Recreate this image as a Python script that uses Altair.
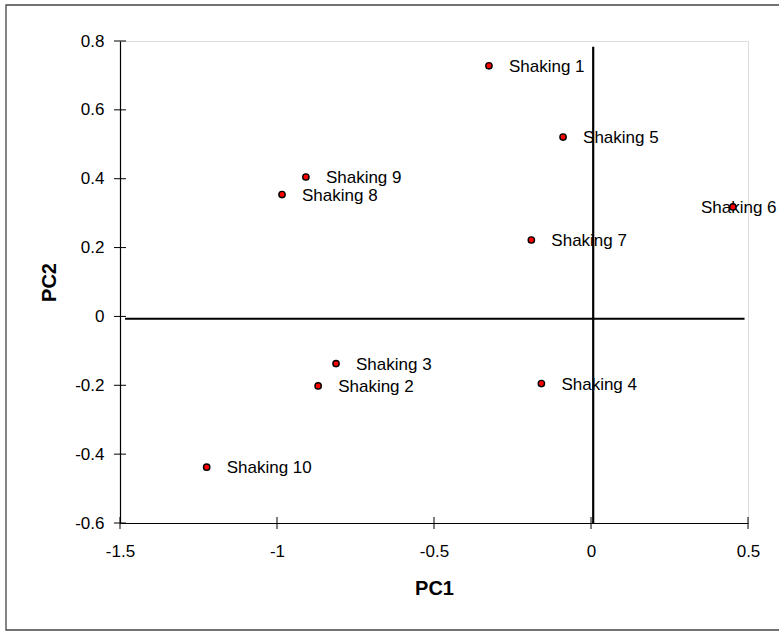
import altair as alt
import pandas as pd

# PCA scores of the shaking runs
labels = ["Shaking 1", "Shaking 2", "Shaking 3", "Shaking 4", "Shaking 5",
          "Shaking 6", "Shaking 7", "Shaking 8", "Shaking 9", "Shaking 10"]
pc1 = [-0.325, -0.869, -0.812, -0.158, -0.089, 0.452, -0.190, -0.984, -0.908, -1.224]
pc2 = [0.728, -0.202, -0.137, -0.195, 0.521, 0.318, 0.222, 0.354, 0.405, -0.438]

# axis tick values
x_ticks = [-1.5, -1.0, -0.5, 0.0, 0.5]
y_ticks = [-0.6, -0.4, -0.2, 0.0, 0.2, 0.4, 0.6, 0.8]

# reference axes drawn through the origin
h_axis = {"x": [-1.484], "x2": [0.489], "y": [-0.007]}
v_axis = {"x": [0.007], "y": [-0.6], "y2": [0.783]}

FONT = "Liberation Sans"
W, H = 628, 482

df = pd.DataFrame({"label": labels, "PC1": pc1, "PC2": pc2})
xs = alt.Scale(domain=[-1.5, 0.5], nice=False, zero=False)
ys = alt.Scale(domain=[-0.6, 0.8], nice=False, zero=False)

x_axis = alt.Axis(values=x_ticks, labelExpr="'' + datum.value", grid=False,
                  ticks=False, tickSize=0, domainColor="black", domainWidth=1.2,
                  labelFont=FONT, labelFontSize=17, labelColor="black",
                  labelPadding=20, labelFlush=False, zindex=1,
                  titleFont=FONT, titleFontSize=20, titleFontWeight="bold",
                  titleColor="black", titleX=W / 2, titleY=71,
                  titleBaseline="alphabetic", titleAlign="center")
y_axis = alt.Axis(values=y_ticks, labelExpr="'' + datum.value", grid=False,
                  ticks=False, tickSize=0, domainColor="black", domainWidth=1.2,
                  labelFont=FONT, labelFontSize=17, labelColor="black",
                  labelPadding=16, labelFlush=False, zindex=1,
                  titleFont=FONT, titleFontSize=20, titleFontWeight="bold",
                  titleColor="black", titleX=-65, titleY=H / 2, titleAngle=-90,
                  titleBaseline="alphabetic", titleAlign="center")

one = pd.DataFrame({"k": [0]})

# outer chart frame
frame = alt.Chart(one).mark_rect(fillOpacity=0, stroke="#444444", strokeWidth=1.3).encode(
    x=alt.value(-114), x2=alt.value(700), y=alt.value(-36), y2=alt.value(589)
)

# crossing tick marks on both axes
xt = alt.Chart(pd.DataFrame({"v": x_ticks})).mark_rule(color="black", strokeWidth=1).encode(
    x=alt.X("v:Q", scale=xs, axis=x_axis, title="PC1"),
    y=alt.value(H - 6), y2=alt.value(H + 6)
)
yt = alt.Chart(pd.DataFrame({"v": y_ticks})).mark_rule(color="black", strokeWidth=1).encode(
    y=alt.Y("v:Q", scale=ys, axis=y_axis, title="PC2"),
    x=alt.value(-6), x2=alt.value(6)
)

hline = alt.Chart(pd.DataFrame(h_axis)).mark_rule(color="black", strokeWidth=2).encode(
    x=alt.X("x:Q", scale=xs), x2="x2:Q", y=alt.Y("y:Q", scale=ys)
)
vline = alt.Chart(pd.DataFrame(v_axis)).mark_rule(color="black", strokeWidth=2.2).encode(
    x=alt.X("x:Q", scale=xs), y=alt.Y("y:Q", scale=ys), y2="y2:Q"
)

base = alt.Chart(df).encode(
    x=alt.X("PC1:Q", scale=xs),
    y=alt.Y("PC2:Q", scale=ys),
)

text_right = base.transform_filter("datum.label != 'Shaking 6'").mark_text(
    align="left", baseline="middle", dx=20, dy=1, font=FONT, fontSize=17, color="black"
).encode(text="label:N")
text_six = base.transform_filter("datum.label == 'Shaking 6'").mark_text(
    align="left", baseline="middle", dx=-32, dy=1, font=FONT, fontSize=17, color="black"
).encode(text="label:N")

points = base.mark_point(shape="circle", filled=True, size=40, fill="#ff0000",
                         stroke="black", strokeWidth=1.4, opacity=1)

chart = alt.layer(frame, xt, yt, hline, vline, text_right, text_six, points).properties(
    width=W, height=H,
    autosize=alt.AutoSizeParams(type="none"),
    padding={"left": 120, "top": 41, "right": 31, "bottom": 108},
).configure_view(stroke="#a8a8a8", strokeWidth=1.2).configure(background="white")

chart.save("out.html", embed_options={"renderer": "svg", "actions": False})
